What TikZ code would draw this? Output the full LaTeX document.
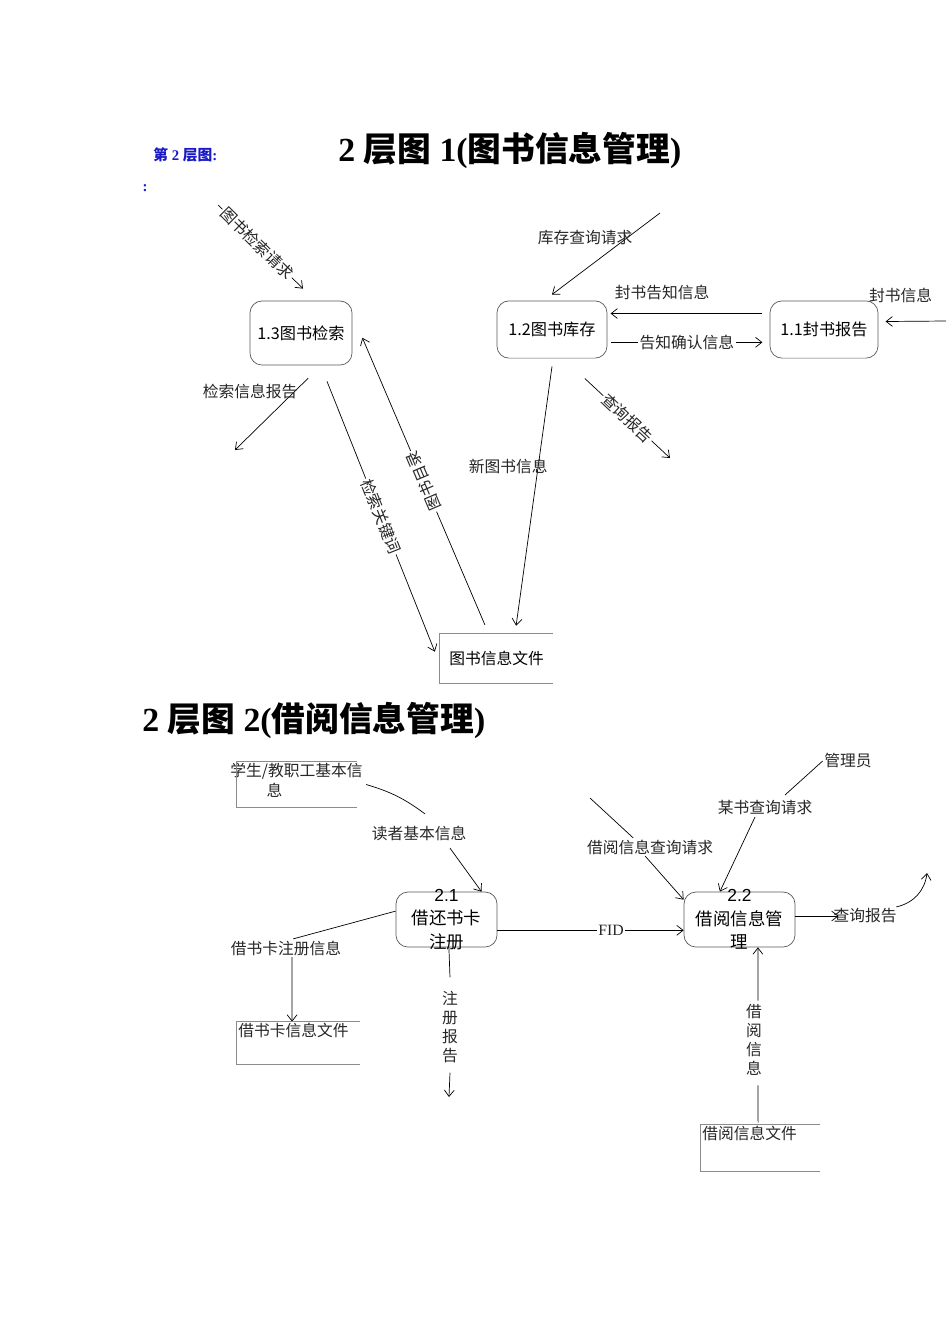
\documentclass[tikz,border=0pt]{standalone}
\usepackage{fontspec}
\setmainfont{Liberation Serif}
\setsansfont{Liberation Sans}
\newfontfamily\cjk{Noto Sans CJK SC}
\usetikzlibrary{arrows.meta}
\definecolor{hdblue}{RGB}{25,25,200}
\newcommand{\zhtxt}[1]{{\cjk #1}}

\begin{document}
\begin{tikzpicture}[
    x=0.025cm, y=-0.025cm,
    >={Straight Barb[length=4.5pt,width=7pt]}, line width=0.5pt,
    proc/.style={
        rectangle, rounded corners=0.3cm, draw=black!65,
        minimum width=2.7cm, minimum height=1.43cm,
        align=center, font=\cjk\fontsize{11.5}{14}\selectfont
    },
    ptext/.style={align=center, inner sep=0pt, font=\cjk\fontsize{12.4}{16.5}\selectfont},
    store/.style={rectangle, inner sep=2pt, font=\cjk\fontsize{11.2}{14}\selectfont},
    storeline/.style={draw=black!45},
    lbl/.style={font=\cjk\fontsize{11.2}{14}\selectfont, text=black!85, inner sep=1pt},
    flbl/.style={lbl, fill=white},
    vlbl/.style={lbl, align=center, font=\cjk\fontsize{11.2}{13.5}\selectfont},
    title/.style={font=\bfseries\fontsize{24}{28}\selectfont, anchor=west, inner sep=0pt}
]

\useasboundingbox (0,0) rectangle (950,1344);

\node[title] (t1) at (338,150) {2 \zhtxt{层图} 1(\zhtxt{图书信息管理})};
\node[anchor=west, inner sep=0pt, text=hdblue, font=\bfseries\fontsize{10.5}{12}\selectfont] (h1) at (153,155) {\zhtxt{第} 2 \zhtxt{层图}:};
\node[inner sep=0pt, text=hdblue, font=\bfseries\fontsize{10.5}{12}\selectfont] (h2) at (145,188) {:};

\node[proc, minimum width=2.55cm, minimum height=1.6cm] (n13) at (301,333) {1.3图书检索};
\node[proc, minimum width=2.75cm] (n12) at (552,329.5) {1.2图书库存};
\node[proc] (n11) at (824,329.5) {1.1封书报告};
\node[store, minimum width=2.825cm, minimum height=1.225cm] (bfile) at (496.5,658.5) {图书信息文件};

\coordinate (q13) at (218,205);
\coordinate (o13) at (235,450);
\coordinate (q12) at (660,213);
\coordinate (q11) at (946,321);
\coordinate (o12) at (670,458);

\draw[->] (q13) -- node[flbl, sloped, pos=0.46] {图书检索请求} ([xshift=0.05cm, yshift=0.3cm]n13.north);
\draw[->] ([xshift=0.18cm, yshift=-0.32cm]n13.south) -- (o13);
\node[lbl] (l13) at (250,391) {检索信息报告};
\draw[->] ([xshift=0.65cm, yshift=-0.4cm]n13.south) -- node[flbl, sloped] {检索关键词} ([xshift=-0.12cm, yshift=0.17cm]bfile.west);
\draw[->] ([xshift=-0.29cm, yshift=0.22cm]bfile.north) -- node[flbl, sloped, allow upside down] {图书目录} ([xshift=0.25cm, yshift=-0.12cm]n13.east);

\draw[->] (q12) -- ([yshift=0.15cm]n12.north);
\node[lbl] (l12q) at (585,238) {库存查询请求};
\draw[->] ([xshift=-0.18cm, yshift=0.4cm]n11.west) -- node[lbl, above=0.3cm, pos=0.66] {封书告知信息} ([xshift=0.08cm, yshift=0.4cm]n12.east);
\draw[->] ([xshift=0.1cm, yshift=-0.32cm]n12.east) -- node[flbl] {告知确认信息} ([xshift=-0.18cm, yshift=-0.32cm]n11.west);
\draw[->] (q11) -- node[lbl, above=0.42cm, pos=0.75] {封书信息} ([xshift=0.18cm, yshift=0.2cm]n11.east);
\draw[->] ([xshift=0.82cm, yshift=-0.5cm]n12.south) -- node[flbl, sloped] {查询报告} (o12);
\draw[->] ([yshift=-0.2cm]n12.south) -- node[lbl, pos=0.385, xshift=-0.75cm] {新图书信息} ([xshift=0.49cm, yshift=0.2cm]bfile.north);

\node[title] (t2) at (142,720) {2 \zhtxt{层图} 2(\zhtxt{借阅信息管理})};

\node[store, minimum width=3cm, minimum height=1.125cm,
    label={[lbl, align=left, anchor=north west, xshift=-0.2cm]north west:学生/教职工基本信\\\hspace*{2.3em}息}] (sfile) at (297,784.5) {};
\node[store, minimum width=3.075cm, minimum height=1.05cm,
    label={[lbl, anchor=north west]north west:借书卡信息文件}] (cfile) at (298.5,1043) {};
\node[store, minimum width=2.975cm, minimum height=1.15cm,
    label={[lbl, anchor=north west]north west:借阅信息文件}] (rfile) at (760.5,1148) {};

\node[proc, minimum width=2.525cm, minimum height=1.375cm] (n21) at (446.5,919.5) {};
\node[ptext] (n21t) at (n21) {\textsf{2.1}\\借还书卡\\注册};
\node[proc, minimum width=2.775cm, minimum height=1.375cm] (n22) at (739.5,919.5) {};
\node[ptext] (n22t) at (n22) {\textsf{2.2}\\借阅信息管\\理};

\node[lbl] (l21r) at (419,833) {读者基本信息};
\draw ([xshift=0.22cm]sfile.east) to[bend left=10] ([xshift=0.15cm, yshift=0.25cm]l21r.north);
\draw[->] ([xshift=-0.45cm, yshift=-0.15cm]l21r.south east) -- ([xshift=0.875cm]n21.north);

\node[lbl] (l21c) at (286,948) {借书卡注册信息};
\draw ([yshift=0.21cm]n21.west) -- ([xshift=0.18cm]l21c.north);
\draw[->] ([xshift=0.15cm]l21c.south) -- ([xshift=-0.16cm]cfile.north);

\node[vlbl] (l21g) at (450,1027) {注\\册\\报\\告};
\coordinate (o21) at (449,1097);
\draw ([xshift=0.06cm]n21.south) -- ([yshift=0.3cm]l21g.north);
\draw[->] ([yshift=-0.2cm]l21g.south) -- (o21);

\draw[->] ([yshift=-0.27cm]n21.east) -- node[flbl, pos=0.61, font=\fontsize{11.2}{14}\selectfont] {FID} ([yshift=-0.27cm]n22.west);

\coordinate (q22a) at (590,798);
\node[lbl] (l22a) at (650,847) {借阅信息查询请求};
\draw (q22a) -- ([xshift=-0.42cm]l22a.north);
\draw[->] ([xshift=-0.12cm]l22a.south) -- ([yshift=-0.2cm]n22.north west);

\node[lbl] (admin) at (848,761) {管理员};
\node[lbl] (l22b) at (765,808) {某书查询请求};
\draw (admin.west) -- ([xshift=0.5cm, yshift=0.1cm]l22b.north);
\draw[->] ([xshift=-0.25cm]l22b.south) -- ([xshift=-0.49cm]n22.north);

\node[lbl] (l22c) at (865,916) {查询报告};
\coordinate (o22) at (927,873);
\draw[->] (n22.east |- l22c.west) -- ([xshift=0.17cm]l22c.west);
\draw[->] ([xshift=-0.05cm]l22c.north east) to[bend right=35] (o22);

\node[vlbl] (l22d) at (754,1040) {借\\阅\\信\\息};
\draw ([xshift=-0.06cm, yshift=0.05cm]rfile.north) -- ([xshift=0.1cm, yshift=-0.2cm]l22d.south);
\draw[->] ([xshift=0.1cm, yshift=0.05cm]l22d.north) -- ([xshift=0.46cm]n22.south);

\foreach \s in {bfile,sfile,cfile,rfile}
    \draw[storeline] (\s.north east) -- (\s.north west) -- (\s.south west) -- (\s.south east);

\end{tikzpicture}
\end{document}
